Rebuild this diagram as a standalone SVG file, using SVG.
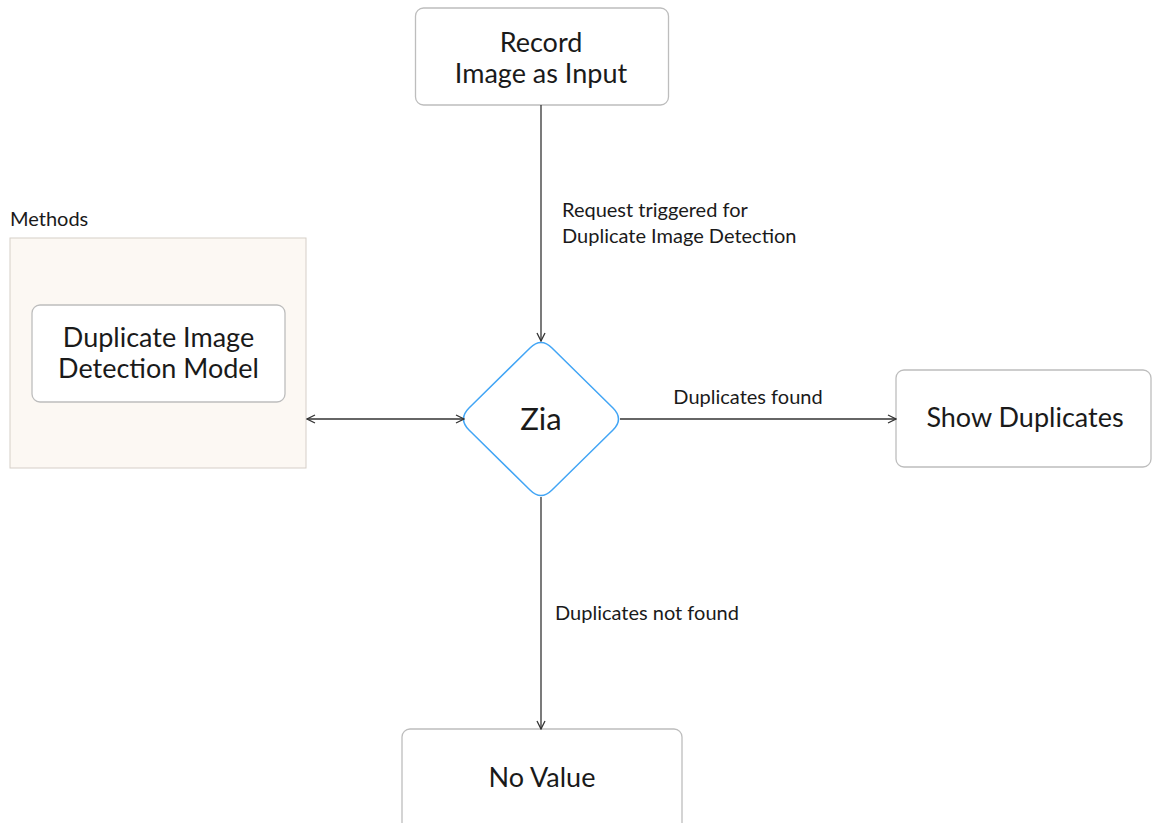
<svg xmlns="http://www.w3.org/2000/svg" width="1152" height="823" viewBox="0 0 1152 823">
<style>
.box{fill:#fff;stroke:#bdbdbd;stroke-width:1.3}
.t{font-family:Lato,"Open Sans",sans-serif;font-size:27px;fill:#1a1a1a;text-anchor:middle}
.l{font-family:Lato,"Open Sans",sans-serif;font-size:20px;fill:#1a1a1a}
.c{fill:none;stroke:#333;stroke-width:1.3}
</style>
<defs>
<marker id="a" viewBox="0 0 10 10" refX="9" refY="5" markerWidth="10" markerHeight="10" markerUnits="userSpaceOnUse" orient="auto-start-reverse">
<path d="M1,1 L9,5 L1,9" fill="none" stroke="#333" stroke-width="1.3"/>
</marker>
</defs>
<rect width="1152" height="823" fill="#fff"/>
<g id="methods">
<text class="l" x="10" y="226">Methods</text>
<rect x="10" y="238" width="296" height="230" fill="#fcf8f3" stroke="#d6cfc8" stroke-width="1"/>
</g>
<g id="model">
<rect class="box" x="32" y="305" width="253" height="97" rx="8"/>
<text class="t" x="158.5" y="347">Duplicate Image</text>
<text class="t" x="158.5" y="378">Detection Model</text>
</g>
<g id="record">
<rect class="box" x="415.5" y="8" width="253" height="97" rx="8"/>
<text class="t" x="541" y="52">Record</text>
<text class="t" x="541" y="83">Image as Input</text>
</g>
<g id="zia">
<path d="M530,348 Q541,337 552,348 L613,408 Q624,419 613,430 L552,490 Q541,501 530,490 L469,430 Q458,419 469,408 Z" fill="#fff" stroke="#42a5f5" stroke-width="1.5"/>
<text class="t" x="541" y="430" style="font-size:31px">Zia</text>
</g>
<g id="show">
<rect class="box" x="896" y="370" width="255" height="97" rx="8"/>
<text class="t" x="1025" y="427">Show Duplicates</text>
</g>
<g id="novalue">
<rect class="box" x="402" y="729" width="280" height="110" rx="8"/>
<text class="t" x="542" y="787">No Value</text>
</g>
<g id="connectors">
<line class="c" x1="541" y1="105" x2="541" y2="341" marker-end="url(#a)"/>
<line class="c" x1="307" y1="419" x2="464" y2="419" marker-start="url(#a)" marker-end="url(#a)"/>
<line class="c" x1="620" y1="419" x2="896" y2="419" marker-end="url(#a)"/>
<line class="c" x1="541" y1="497" x2="541" y2="729" marker-end="url(#a)"/>
<text class="l" x="562" y="217">Request triggered for</text>
<text class="l" x="562" y="243">Duplicate Image Detection</text>
<text class="l" x="748" y="404" text-anchor="middle">Duplicates found</text>
<text class="l" x="555" y="620">Duplicates not found</text>
</g>
</svg>
